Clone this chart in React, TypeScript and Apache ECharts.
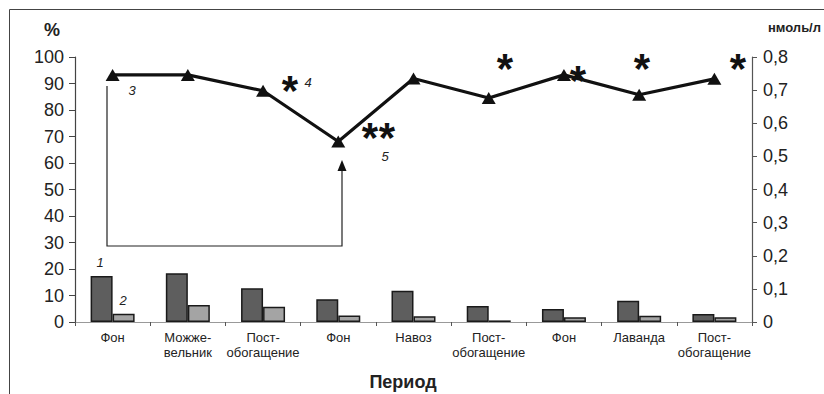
import React, { useEffect, useRef } from "react";
import * as echarts from "echarts";

const categories = [
  "Фон",
  "Можже-\nвельник",
  "Пост-\nобогащение",
  "Фон",
  "Навоз",
  "Пост-\nобогащение",
  "Фон",
  "Лаванда",
  "Пост-\nобогащение",
];
const series1 = [17.4, 18.4, 12.7, 8.6, 11.8, 6.0, 4.9, 8.0, 3.0];
const series2 = [3.1, 6.4, 5.8, 2.5, 2.2, 0.6, 1.8, 2.4, 1.8];
const lineValues = [0.746, 0.746, 0.698, 0.545, 0.735, 0.676, 0.746, 0.686, 0.734];
const leftTicks = { min: 0, max: 100, interval: 10 };
const rightTicks = { min: 0, max: 0.8, interval: 0.1 };

const FONT = "Liberation Sans, Arial, sans-serif";

export default function App() {
  const ref = useRef<HTMLDivElement>(null);
  useEffect(() => {
    if (!ref.current) return;
    const chart = echarts.init(ref.current, null, { renderer: "svg" });
    const star = (x: number, y: number, t = "*") => ({
      type: "text",
      x,
      y: y + 8,
      style: {
        text: t,
        font: `bold 42px ${FONT}`,
        lineHeight: 20,
        fill: "#111",
        textAlign: "center",
        textVerticalAlign: "middle",
      },
    });
    const num = (x: number, y: number, t: string) => ({
      type: "text",
      x,
      y,
      z: 100,
      style: {
        text: t,
        font: `italic 13px ${FONT}`,
        fill: "#222",
        textAlign: "center",
        textVerticalAlign: "middle",
      },
    });
    chart.setOption({
      animation: false,
      backgroundColor: "#fff",
      textStyle: { fontFamily: FONT },
      grid: { left: 75, right: 72, top: 57, bottom: 72 },
      xAxis: [
        {
          type: "category",
          data: categories,
          position: "bottom",
          axisLine: { lineStyle: { color: "#555", width: 1.2 } },
          axisTick: { show: true, interval: 0, length: 4, lineStyle: { color: "#555" } },
          axisLabel: {
            interval: 0,
            margin: 8,
            fontSize: 13,
            lineHeight: 15,
            color: "#222",
            fontFamily: FONT,
          },
        },
        {
          type: "category",
          data: categories,
          position: "top",
          axisLine: { lineStyle: { color: "#999", width: 1 } },
          axisTick: { show: false },
          axisLabel: { show: false },
        },
      ],
      yAxis: [
        {
          type: "value",
          position: "left",
          ...leftTicks,
          axisLine: { show: true, lineStyle: { color: "#444", width: 1.2 } },
          axisTick: { show: true, length: 6, lineStyle: { color: "#444" } },
          axisLabel: { fontSize: 18, color: "#222", margin: 11, fontFamily: FONT },
          splitLine: { show: false },
        },
        {
          type: "value",
          position: "right",
          ...rightTicks,
          axisLine: { show: true, lineStyle: { color: "#555", width: 1.2 } },
          axisTick: { show: true, length: 5, lineStyle: { color: "#555" } },
          axisLabel: {
            fontSize: 18,
            color: "#222",
            margin: 11,
            fontFamily: FONT,
            formatter: (v: number) => (v === 0 ? "0" : v.toFixed(1).replace(".", ",")),
          },
          splitLine: { show: false },
        },
      ],
      series: [
        {
          type: "bar",
          data: series1,
          yAxisIndex: 0,
          barWidth: 22,
          barGap: "0%",
          itemStyle: { color: "#5e5e5e", borderColor: "#1a1a1a", borderWidth: 1.5 },
        },
        {
          type: "bar",
          data: series2,
          yAxisIndex: 0,
          barWidth: 22,
          barGap: "0%",
          itemStyle: { color: "#a4a4a4", borderColor: "#1a1a1a", borderWidth: 1.5 },
        },
        {
          type: "line",
          data: lineValues,
          yAxisIndex: 1,
          symbol: "triangle",
          symbolSize: [14, 12],
          lineStyle: { color: "#111", width: 3.2 },
          itemStyle: { color: "#111" },
        },
      ],
      graphic: [
        {
          type: "rect",
          shape: { x: 9.5, y: 9.5, width: 900, height: 500 },
          style: { fill: "none", stroke: "#444", lineWidth: 1 },
        },
        {
          type: "text",
          x: 52,
          y: 30,
          style: { text: "%", font: `bold 18px ${FONT}`, fill: "#222", textAlign: "center", textVerticalAlign: "middle" },
        },
        {
          type: "text",
          x: 821,
          y: 27,
          style: { text: "нмоль/л", font: `bold 13px ${FONT}`, fill: "#222", textAlign: "right", textVerticalAlign: "middle" },
        },
        {
          type: "text",
          x: 403,
          y: 382,
          style: { text: "Период", font: `bold 18px ${FONT}`, fill: "#222", textAlign: "center", textVerticalAlign: "middle" },
        },
        {
          type: "polyline",
          shape: { points: [[107, 86], [107, 246], [342, 246], [342, 170]] },
          style: { stroke: "#222", lineWidth: 1.2, fill: "none" },
        },
        {
          type: "polygon",
          shape: { points: [[342, 160], [337.5, 171], [346.5, 171]] },
          style: { fill: "#111" },
        },
        star(290, 82),
        star(370, 129),
        star(387, 129),
        star(505, 60),
        star(578, 72),
        star(642, 60),
        star(738, 60),
        num(308, 82, "4"),
        num(385, 156, "5"),
        num(132, 90, "3"),
        num(100, 262, "1"),
        num(123, 300, "2"),
      ],
    });
    return () => chart.dispose();
  }, []);
  return (
    <div
      ref={ref}
      style={{ position: "fixed", left: 0, top: 0, width: 824, height: 394 }}
    />
  );
}
